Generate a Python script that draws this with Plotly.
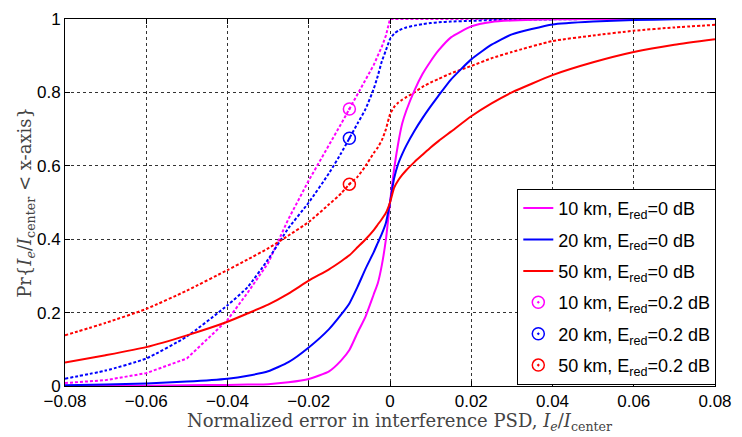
import plotly.graph_objects as go

# Normalized error grid (x-axis)
x = [-0.08, -0.07, -0.06, -0.05, -0.04, -0.035, -0.03, -0.025, -0.02, -0.015,
     -0.012, -0.01, -0.008, -0.006, -0.004, -0.003, -0.002, -0.001, 0.0,
     0.001, 0.002, 0.003, 0.004, 0.006, 0.008, 0.01, 0.012, 0.015, 0.02,
     0.025, 0.03, 0.04, 0.05, 0.06, 0.07, 0.08]

# E_red = 0 dB (solid)
m0 = [0.000, 0.001, 0.001, 0.002, 0.003, 0.004, 0.005, 0.010, 0.019, 0.040,
      0.070, 0.098, 0.145, 0.19, 0.25, 0.28, 0.33, 0.40, 0.50,
      0.59, 0.66, 0.715, 0.75, 0.805, 0.85, 0.885, 0.915, 0.95, 0.98,
      0.992, 0.996, 0.999, 1.0, 1.0, 1.0, 1.0]
b0 = [0.002, 0.004, 0.007, 0.012, 0.020, 0.028, 0.040, 0.065, 0.105, 0.155,
      0.195, 0.225, 0.27, 0.32, 0.365, 0.39, 0.415, 0.445, 0.50,
      0.565, 0.605, 0.632, 0.655, 0.695, 0.73, 0.762, 0.792, 0.835, 0.89,
      0.93, 0.958, 0.985, 0.993, 0.997, 0.999, 1.0]
r0 = [0.064, 0.084, 0.106, 0.138, 0.175, 0.198, 0.222, 0.252, 0.287, 0.318,
      0.34, 0.356, 0.378, 0.40, 0.425, 0.44, 0.455, 0.472, 0.50,
      0.54, 0.56, 0.575, 0.588, 0.61, 0.63, 0.65, 0.668, 0.693, 0.735,
      0.77, 0.80, 0.847, 0.882, 0.91, 0.93, 0.945]

# E_red = 0.2 dB (dotted)
m2 = [0.008, 0.016, 0.035, 0.075, 0.18, 0.255, 0.335, 0.455, 0.56, 0.655,
      0.715, 0.755, 0.795, 0.835, 0.875, 0.90, 0.925, 0.955, 1.0,
      1.0, 1.0, 1.0, 1.0, 1.0, 1.0, 1.0, 1.0, 1.0, 1.0,
      1.0, 1.0, 1.0, 1.0, 1.0, 1.0, 1.0]
b2 = [0.02, 0.042, 0.075, 0.135, 0.22, 0.27, 0.345, 0.43, 0.50, 0.58,
      0.635, 0.675, 0.715, 0.755, 0.81, 0.845, 0.885, 0.915, 0.945,
      0.96, 0.968, 0.973, 0.977, 0.982, 0.986, 0.989, 0.991, 0.993, 0.995,
      0.997, 0.998, 0.999, 1.0, 1.0, 1.0, 1.0]
r2 = [0.138, 0.172, 0.21, 0.26, 0.316, 0.345, 0.375, 0.41, 0.447, 0.495,
      0.525, 0.55, 0.57, 0.60, 0.635, 0.65, 0.67, 0.70, 0.74,
      0.76, 0.772, 0.78, 0.787, 0.80, 0.815, 0.827, 0.837, 0.852, 0.872,
      0.893, 0.91, 0.94, 0.955, 0.968, 0.977, 0.984]

# Marker positions on dotted curves
marker_x = [-0.01]
marker_m2 = [0.755]
marker_b2 = [0.675]
marker_r2 = [0.55]

labels_solid = ["10 km, E<sub>red</sub>=0 dB", "20 km, E<sub>red</sub>=0 dB",
                "50 km, E<sub>red</sub>=0 dB"]
labels_dot = ["10 km, E<sub>red</sub>=0.2 dB", "20 km, E<sub>red</sub>=0.2 dB",
              "50 km, E<sub>red</sub>=0.2 dB"]
colors = ["#ff00ff", "#0000ff", "#ff0000"]

fig = go.Figure()

for i, (ys, c) in enumerate(zip([m2, b2, r2], colors)):
    shape = "linear" if i == 0 else "spline"
    fig.add_trace(go.Scatter(x=x, y=ys, mode="lines", showlegend=False,
                             line=dict(color=c, width=2, dash="3px,2px",
                                       shape=shape, smoothing=0.5)))

for i, (ys, c, name) in enumerate(zip([m0, b0, r0], colors, labels_solid)):
    fig.add_trace(go.Scatter(x=x, y=ys, mode="lines", name=name,
                             legendgroup="s%d" % i,
                             line=dict(color=c, width=2, shape="spline", smoothing=0.5)))

for i, (ys, c, name) in enumerate(zip([marker_m2, marker_b2, marker_r2], colors, labels_dot)):
    fig.add_trace(go.Scatter(x=marker_x, y=ys, mode="markers", name=name,
                             legendgroup="d%d" % i,
                             marker=dict(symbol="circle-open-dot", size=12,
                                         color=c, line=dict(color=c, width=1.5))))

tickfont = dict(family="Liberation Sans, Arial, sans-serif", size=17, color="black")
axis_common = dict(showline=True, linecolor="black", linewidth=1, mirror="ticks",
                   ticks="inside", ticklen=5, tickcolor="black", tickfont=tickfont,
                   showgrid=True, gridcolor="#333333", gridwidth=1, griddash="dot",
                   zeroline=False)

fig.update_xaxes(range=[-0.08, 0.08], dtick=0.02, tick0=-0.08, **axis_common)
fig.update_yaxes(range=[0, 1], dtick=0.2, tick0=0, **axis_common)

serif = dict(family="DejaVu Serif, Liberation Serif, serif", size=18, color="#444444")
fig.update_layout(
    width=742, height=437,
    margin=dict(l=65, r=21, t=10, b=51),
    paper_bgcolor="white", plot_bgcolor="white",
    legend=dict(x=1.002, y=0.003, xanchor="right", yanchor="bottom",
                bgcolor="white", bordercolor="black", borderwidth=1,
                font=dict(family="Liberation Sans, Arial, sans-serif", size=18, color="black"),
                traceorder="grouped", tracegroupgap=5, itemwidth=30),
    annotations=[
        dict(text="Normalized error in interference PSD, <i>I<sub>e</sub></i>/<i>I</i><sub>center</sub>",
             xref="paper", yref="paper", x=0.515, y=-0.064, xanchor="center", yanchor="top",
             showarrow=False, font=serif, borderpad=0),
        dict(text="Pr{<i>I<sub>e</sub></i>/<i>I</i><sub>center</sub> &lt; x-axis}",
             xref="paper", yref="paper", x=-0.061, y=0.5, xanchor="center", yanchor="middle",
             textangle=-90, showarrow=False, font=serif, borderpad=0),
    ],
)

fig.write_html("out.html")
